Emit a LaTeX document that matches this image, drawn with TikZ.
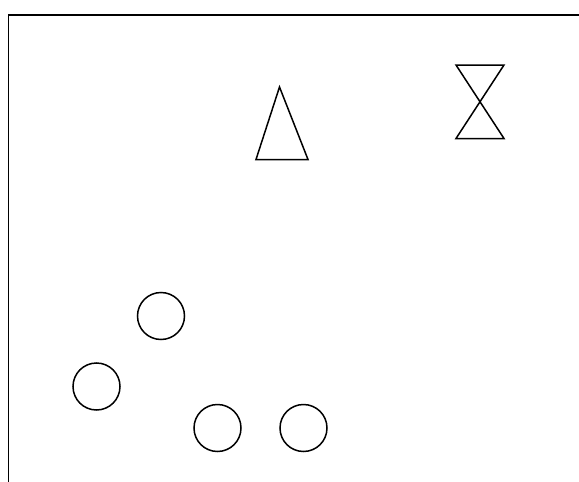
\documentclass[tikz,border=0pt]{standalone}
\begin{document}
\begin{tikzpicture}[x=1pt,y=-1pt,
  shape line/.style={draw=black,line width=1.5pt,line join=miter},
  ring/.style={circle,draw=black,line width=1.5pt,minimum size=47pt,inner sep=0pt}]
\useasboundingbox (0,0) rectangle (579,482);
\fill[white] (0,0) rectangle (579,482);
% frame
\draw[shape line] (8.5,482) -- (8.5,15) -- (579,15);
% triangle
\draw[shape line] (279.5,87) -- (308,159.5) -- (256,159.5) -- cycle;
% hourglass
\draw[shape line] (456,65) -- (504,65) -- (456,138.5) -- (504,138.5) -- cycle;
% circles
\node[ring] (c1) at (161,316) {};
\node[ring] (c2) at (96.5,386.5) {};
\node[ring] (c3) at (217.5,428) {};
\node[ring] (c4) at (303.5,428) {};
\end{tikzpicture}
\end{document}
